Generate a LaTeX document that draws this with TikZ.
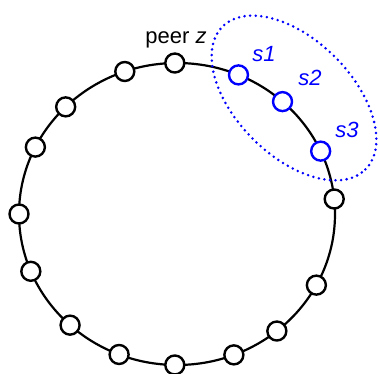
\documentclass[tikz,border=0pt]{standalone}
\usepackage{fontspec}
\setmainfont{Liberation Sans}
\usepackage{xcolor}
\definecolor{selblue}{HTML}{0000FF}
\tikzset{peer/.style={circle, draw=black, fill=white, line width=2.4pt, minimum size=19pt, inner sep=0pt}}
\tikzset{selpeer/.style={peer, draw=selblue}}
\tikzset{lbl/.style={anchor=base, font=\fontsize{22}{26}\selectfont}}

\begin{document}
\begin{tikzpicture}[x=1pt,y=1pt]
	\useasboundingbox (0,0) rectangle (378,373);
	\coordinate (ring) at (177,159);
	%anello
	\draw [line width=2.2pt] (ring) ellipse [x radius=158, y radius=151];
	%insieme s1..s3
	\draw [selblue, line width=2.8pt, line cap=round, dash pattern=on 0pt off 5.6pt] (294,275) ellipse [x radius=101, y radius=58, rotate=-45];
	%peer neri
	\foreach \a/\n in {180/p1, 153.7/p2, 134.8/p3, 109.3/p4, 90.8/z, 5.7/p5, -28.1/p6, -50.8/p7, -68.9/p8, -90.8/p9, -111.5/p10, -132.6/p11, -157.7/p12}
		\node [peer] (\n) at ([shift={(\a:158 and 151)}]ring) {};
	%peer blu
	\foreach \a/\n in {67.1/s1, 48.1/s2, 24.6/s3}
		\node [selpeer] (\n) at ([shift={(\a:158 and 151)}]ring) {};
	%etichette
	\node [lbl] (lz) at (176,329) {peer \textit{z}};
	\node [lbl, text=selblue] (ls1) at (264,311) {\textit{s1}};
	\node [lbl, text=selblue] (ls2) at (310,287) {\textit{s2}};
	\node [lbl, text=selblue] (ls3) at (347,236) {\textit{s3}};
\end{tikzpicture}
\end{document}
